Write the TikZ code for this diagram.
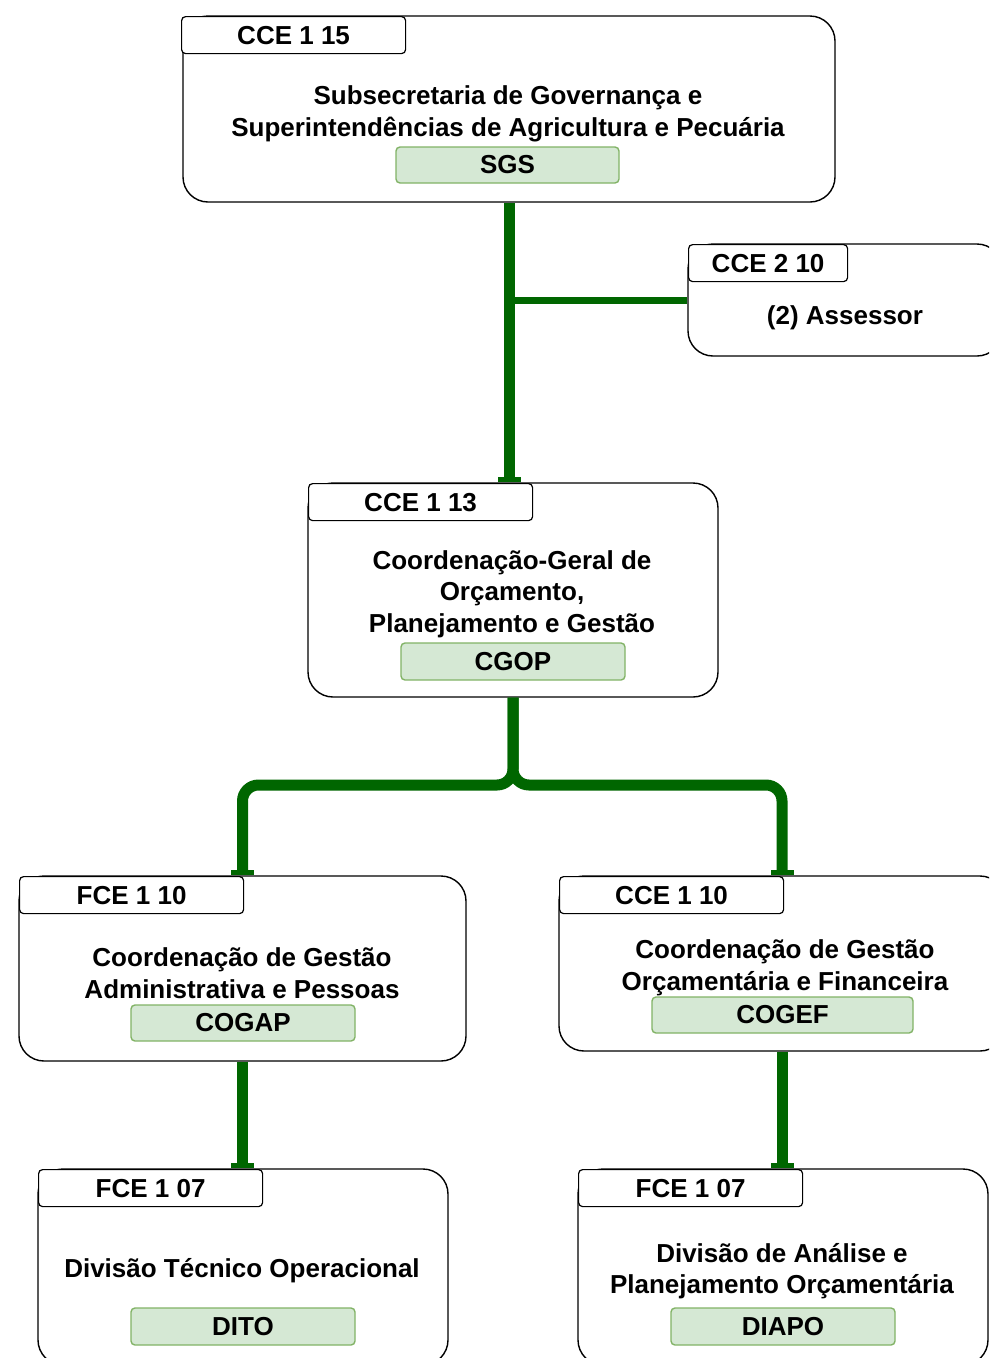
\documentclass[tikz,border=0pt]{standalone}
\usepackage{fontspec}
\setmainfont{Liberation Sans}
\usetikzlibrary{arrows.meta}
\definecolor{lgreen}{HTML}{D5E8D4}
\definecolor{bgreen}{HTML}{82B366}
\definecolor{dgreen}{HTML}{006600}
\tikzset{
  unit/.style={draw=black, line width=1.4pt, fill=white, rounded corners=25pt, inner sep=0pt},
  tab/.style={draw=black, line width=1.2pt, fill=white, rounded corners=4pt, minimum width=224pt, minimum height=37pt, inner sep=0pt, anchor=north west, font=\fontsize{26}{30}\selectfont\bfseries},
  title/.style={align=center, font=\fontsize{26}{31.5}\selectfont\bfseries, inner sep=0pt},
  code/.style={draw=bgreen, line width=1.4pt, fill=lgreen, rounded corners=4pt, minimum height=36pt, inner sep=0pt, font=\fontsize{26}{30}\selectfont\bfseries},
  conn/.style={draw=dgreen, line width=11pt, -{Rectangle[length=5pt,width=23pt]}},
  side/.style={draw=dgreen, line width=7pt}
}
\begin{document}
\begin{tikzpicture}[x=1pt,y=-1pt]
\useasboundingbox (0,0) rectangle (989,1358);
\clip (0,0) rectangle (989,1358);
% unit boxes
\node[unit, minimum width=652pt, minimum height=186pt] (b1) at (509,109) {};
\node[unit, minimum width=314pt, minimum height=112pt] (b2) at (845,300) {};
\node[unit, minimum width=410pt, minimum height=214pt] (b3) at (513,590) {};
\node[unit, minimum width=447pt, minimum height=185pt] (b4) at (242.5,968.5) {};
\node[unit, minimum width=446pt, minimum height=175pt] (b5) at (782,963.5) {};
\node[unit, minimum width=410pt, minimum height=196pt] (b6) at (243,1267) {};
\node[unit, minimum width=410pt, minimum height=196pt] (b7) at (783,1267) {};
% tabs
\node[tab] (h1) at (181,16) {CCE 1 15};
\node[tab, minimum width=159pt] (h2) at (688,244) {CCE 2 10};
\node[tab] (h3) at (308,483) {CCE 1 13};
\node[tab] (h4) at (19,876) {FCE 1 10};
\node[tab] (h5) at (559,876) {CCE 1 10};
\node[tab] (h6) at (38,1169) {FCE 1 07};
\node[tab] (h7) at (578,1169) {FCE 1 07};
% titles
\node[title] (t1) at (508,114) {Subsecretaria de Governança e\\Superintendências de Agricultura e Pecuária};
\node[title] (t2) at (845,318) {(2) Assessor};
\node[title] (t3) at (512,594) {Coordenação-Geral de\\Orçamento,\\Planejamento e Gestão};
\node[title] (t4) at (242,973) {Coordenação de Gestão\\Administrativa e Pessoas};
\node[title] (t5) at (785,968) {Coordenação de Gestão\\Orçamentária e Financeira};
\node[title] (t6) at (242,1271) {Divisão Técnico Operacional};
\node[title] (t7) at (782,1271) {Divisão de Análise e\\Planejamento Orçamentária};
% codes
\node[code, minimum width=223pt] (g1) at (507.5,165) {SGS};
\node[code, minimum width=224pt, minimum height=37pt] (g3) at (513,661.5) {CGOP};
\node[code, minimum width=224pt] (g4) at (243,1023) {COGAP};
\node[code, minimum width=261pt] (g5) at (782.5,1015) {COGEF};
\node[code, minimum width=224pt, minimum height=37pt] (g6) at (243,1326.5) {DITO};
\node[code, minimum width=224pt, minimum height=37pt] (g7) at (783,1326.5) {DIAPO};
% connectors
\coordinate (fkL) at (242.5,785);
\coordinate (fkR) at (782,785);
\draw[side] (b1.south |- b2.west) -- (b2.west);
\draw[conn] (b1.south) -- (b1.south |- b3.north);
\draw[conn, rounded corners=16pt] (b3.south) |- (fkL) -- (b4.north);
\draw[conn, rounded corners=16pt] (b3.south) |- (fkR) -- (b5.north);
\draw[conn] (b4.south) -- (b4.south |- b6.north);
\draw[conn] (b5.south) -- (b5.south |- b7.north);
\end{tikzpicture}
\end{document}
